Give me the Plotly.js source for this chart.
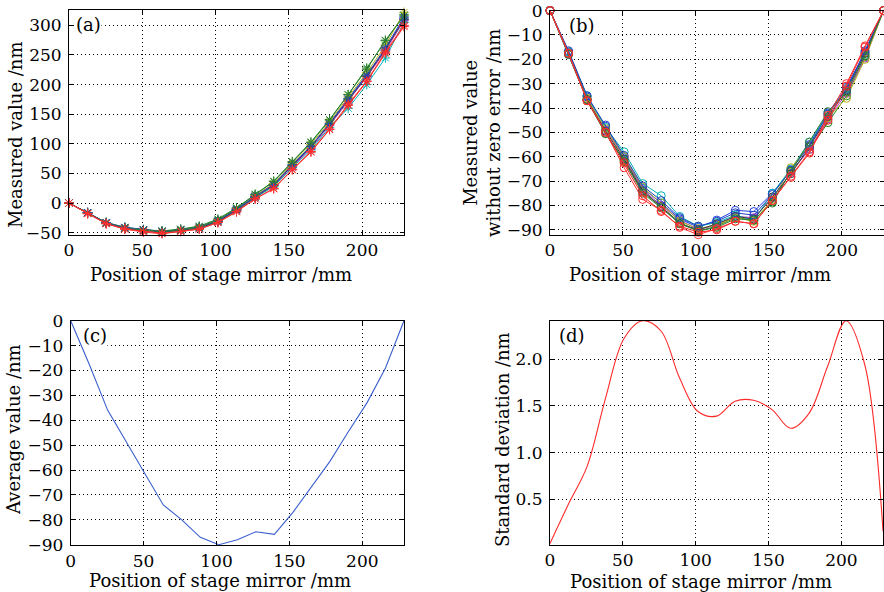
<!DOCTYPE html>
<html>
<head>
<meta charset="utf-8">
<script src="https://cdn.plot.ly/plotly-3.0.1.min.js"></script>
<style>html,body{margin:0;padding:0;background:#fff;}#chart{width:884px;height:592px;}</style>
</head>
<body>
<div id="chart"></div>
<script>
// Positions of stage mirror (mm)
var positions = [0, 12.7, 25.4, 38.1, 50.8, 63.5, 76.2, 88.9, 101.6, 114.3, 127, 139.7, 152.4, 165.1, 177.8, 190.5, 203.2, 215.9, 228.6];

// Series colours
var seriesColors = ['#1f3fe0', '#1a8a1a', '#bf2fbf', '#00b4b4', '#b0b020', '#404040', '#2040c0', '#2e7d32', '#ff2020', '#ff3030'];

// (a) Measured value /nm, one list per measurement run
var measuredA = [
  [0, -16, -33, -41, -45, -48, -45, -40, -29, -10, 12, 32, 63, 95, 135, 176, 215, 258, 312],
  [0, -16, -33, -41, -45, -47, -44, -39, -27, -8, 15, 37, 70, 103, 141, 183, 228, 274, 318],
  [0, -17, -34, -43, -47, -49, -46, -42, -31, -12, 10, 30, 62, 92, 131, 172, 213, 257, 308],
  [0, -17, -34, -42, -46, -49, -47, -43, -32, -13, 9, 28, 60, 90, 128, 160, 200, 245, 305],
  [0, -17, -33, -42, -46, -48, -46, -41, -30, -11, 12, 33, 67, 99, 137, 179, 220, 266, 322],
  [0, -17, -34, -42, -46, -49, -46, -42, -31, -12, 10, 30, 64, 95, 133, 174, 214, 260, 310],
  [0, -16, -33, -42, -45, -48, -45, -41, -30, -11, 11, 31, 65, 96, 134, 176, 216, 262, 314],
  [0, -17, -34, -43, -46, -48, -45, -41, -29, -9, 14, 36, 69, 102, 140, 183, 226, 275, 316],
  [0, -18, -35, -44, -48, -51, -48, -44, -33, -15, 7, 24, 56, 86, 124, 165, 205, 253, 298],
  [0, -18, -35, -44, -49, -52, -48, -44, -33, -14, 7, 25, 57, 87, 125, 167, 206, 255, 300]
];

// (b) Measured value without zero error /nm
var withoutZeroB = [
  [0, -17, -35.5, -47.5, -60, -73, -79, -85.5, -89, -86, -82, -82.5, -75, -65.5, -55, -42, -31.5, -17, 0],
  [0, -18, -37, -50.5, -61.5, -74.5, -80.5, -87, -90.5, -88.5, -85, -86, -78.5, -66, -57, -46, -35, -19, 0],
  [0, -18, -36.5, -49, -60.5, -73.5, -80, -86, -90, -88, -84.5, -85, -77, -66.5, -57, -44.5, -34, -19.5, 0],
  [0, -17, -35, -48, -58, -71, -76, -84.5, -88.5, -87, -84, -86, -75, -65, -54, -42.5, -32, -18, 0],
  [0, -17.5, -36, -48.5, -60, -72.5, -79, -86.5, -89.5, -88, -85, -86.5, -77.5, -64.5, -55.5, -44, -36, -20, 0],
  [0, -17.5, -36.5, -49.5, -61, -74, -80.5, -87.5, -90, -87.5, -84.5, -85.5, -76.5, -67, -56, -43.5, -33, -17.5, 0],
  [0, -16.5, -35, -47, -59.5, -72, -78, -85, -88.5, -86.5, -83, -84, -75.5, -65.5, -55.5, -42.5, -32.5, -16.5, 0],
  [0, -18, -36.5, -50.5, -62, -75, -81, -87.5, -90.5, -89, -85.5, -86, -79, -66, -54, -41.5, -33.5, -18.5, 0],
  [0, -17.5, -37, -50, -62.5, -76, -82.5, -88.5, -91, -90, -86.5, -87.5, -78, -68, -58, -45, -31, -15, 0],
  [0, -17.5, -37, -50, -64.5, -77.5, -82, -89, -92, -89.5, -86.5, -87.5, -78, -68.5, -58.5, -43, -30, -14.5, 0]
];

// (c) Average value /nm
var averageC = [0, -17.5, -36, -48.5, -61, -74, -80, -87, -90, -88, -84.8, -85.8, -77, -67, -56.5, -44.5, -33, -19, 0];

// (d) Standard deviation /nm
var stdD = [0.03, 0.45, 0.85, 1.58, 2.22, 2.41, 2.3, 1.8, 1.44, 1.39, 1.55, 1.56, 1.46, 1.26, 1.42, 1.92, 2.41, 1.95, 0.16];

var xTicks = [0, 50, 100, 150, 200];
var yTicksA = [-50, 0, 50, 100, 150, 200, 250, 300];
var yTicksB = [-90, -80, -70, -60, -50, -40, -30, -20, -10, 0];
var yTicksC = [-90, -80, -70, -60, -50, -40, -30, -20, -10, 0];
var yTicksD = [0.5, 1.0, 1.5, 2.0];
var yTickTextD = ['0.5', '1.0', '1.5', '2.0'];

var xTitle = 'Position of stage mirror /mm';
var yTitleA = 'Measured value /nm';
var yTitleB = 'Measured value<br>without zero error /nm';
var yTitleC = 'Average value /nm';
var yTitleD = 'Standard deviation /nm';

var FONT = 'DejaVu Serif, Liberation Serif, serif';
var FS = 18;   // titles
var TFS = 17;  // tick labels
var traces = [];
measuredA.forEach(function (vals, i) {
  traces.push({
    x: positions, y: vals, type: 'scatter', mode: 'lines+markers', xaxis: 'x', yaxis: 'y',
    line: {color: seriesColors[i], width: 1},
    marker: {symbol: 'asterisk-open', size: 8, color: seriesColors[i], line: {color: seriesColors[i], width: 1}},
    cliponaxis: false, showlegend: false, hoverinfo: 'skip'
  });
});
withoutZeroB.forEach(function (vals, i) {
  traces.push({
    x: positions, y: vals, type: 'scatter', mode: 'lines+markers', xaxis: 'x2', yaxis: 'y2',
    line: {color: seriesColors[i], width: 1},
    marker: {symbol: 'circle-open', size: 8, color: seriesColors[i], line: {color: seriesColors[i], width: 1}},
    cliponaxis: false, showlegend: false, hoverinfo: 'skip'
  });
});
traces.push({x: positions, y: averageC, type: 'scatter', mode: 'lines', xaxis: 'x3', yaxis: 'y3',
  line: {color: '#3a5fcd', width: 1.1}, showlegend: false, hoverinfo: 'skip'});
traces.push({x: positions, y: stdD, type: 'scatter', mode: 'lines', xaxis: 'x4', yaxis: 'y4',
  line: {color: '#ff2a2a', width: 1.1, shape: 'spline', smoothing: 1}, showlegend: false, hoverinfo: 'skip'});

function common() {
  return {
    ticks: 'inside', ticklen: 4, tickcolor: '#000', showline: true, mirror: 'all', linecolor: '#000', linewidth: 1,
    showgrid: true, gridcolor: '#000', gridwidth: 1, griddash: '1px,3px', zeroline: false,
    tickfont: {family: FONT, size: TFS, color: '#000'}, automargin: false
  };
}
function xa(domain, anchor) {
  var o = common();
  o.domain = domain; o.anchor = anchor; o.range = [0, 228.6]; o.tickvals = xTicks; o.ticklabelstandoff = 0;
  return o;
}
function ya(domain, anchor, range, tickvals, ticktext) {
  var o = common();
  o.domain = domain; o.anchor = anchor; o.range = range; o.tickvals = tickvals; o.ticklabelstandoff = 3;
  if (ticktext) o.ticktext = ticktext;
  return o;
}

function label(text, x, y, angle) {
  return {text: text, xref: 'paper', yref: 'paper', x: x / 884, y: 1 - y / 592, xanchor: 'center', yanchor: 'middle',
    textangle: angle || 0, showarrow: false, font: {family: FONT, size: FS, color: '#000'}};
}
function tag(text, xr, yr, x) {
  return {text: text, xref: xr + ' domain', yref: yr + ' domain', x: x, y: 0.985, xanchor: 'left', yanchor: 'top',
    showarrow: false, bgcolor: '#fff', borderpad: 0, font: {family: FONT, size: FS, color: '#000'}};
}

var layout = {
  width: 884, height: 592, margin: {l: 0, r: 0, t: 0, b: 0},
  paper_bgcolor: '#fff', plot_bgcolor: '#fff', showlegend: false,
  font: {family: FONT, color: '#000'},
  xaxis: xa([0.07805, 0.45701], 'y'),
  yaxis: ya([0.60304, 0.98311], 'x', [-54, 326], yTicksA),
  xaxis2: xa([0.62217, 0.9995], 'y2'),
  yaxis2: ya([0.60355, 0.98226], 'x2', [-92, 0.02], yTicksB),
  xaxis3: xa([0.07998, 0.45701], 'y3'),
  yaxis3: ya([0.07855, 0.45828], 'x3', [-90.3, 0.02], yTicksC),
  xaxis4: xa([0.62217, 0.9989], 'y4'),
  yaxis4: ya([0.07939, 0.45828], 'x4', [0.013, 2.41], yTicksD, yTickTextD),
  annotations: [
    label(xTitle, 221, 274), label(xTitle, 700, 274), label(xTitle, 220, 580), label(xTitle, 701, 581),
    label(yTitleA, 15, 135, -90), label(yTitleB, 482, 133, -90), label(yTitleC, 13, 430, -90), label(yTitleD, 502, 440, -90),
    tag('(a)', 'x', 'y', 0.018), tag('(b)', 'x2', 'y2', 0.055), tag('(c)', 'x3', 'y3', 0.035), tag('(d)', 'x4', 'y4', 0.025)
  ]
};

Plotly.newPlot('chart', traces, layout, {staticPlot: true, displayModeBar: false});
</script>
</body>
</html>
